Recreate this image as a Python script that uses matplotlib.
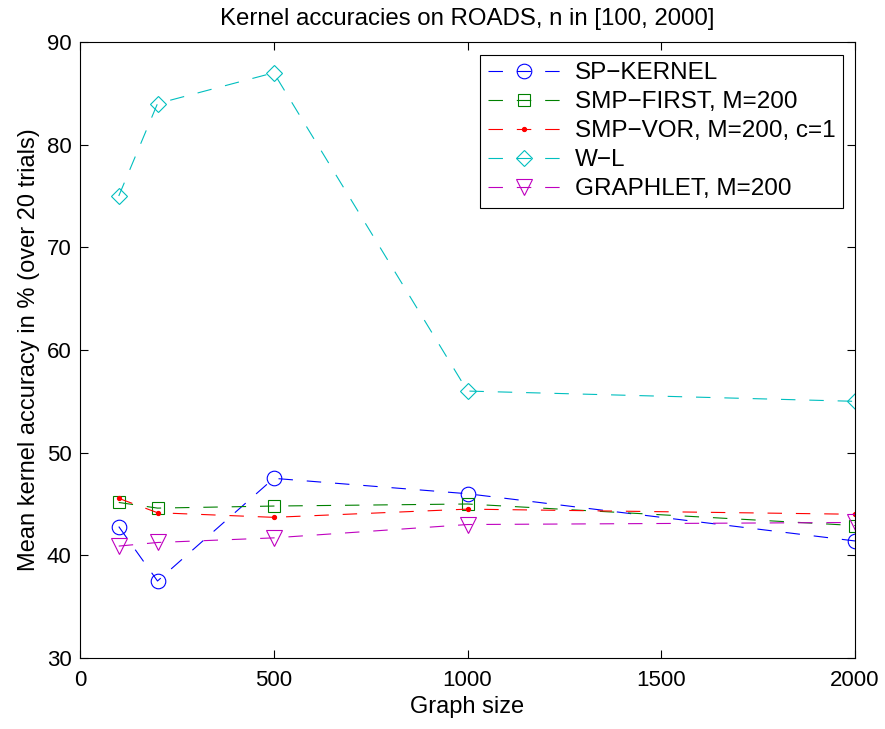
import matplotlib
matplotlib.use("Agg")
from matplotlib import pyplot as plt

plt.rcParams["font.family"] = ["Liberation Sans", "DejaVu Sans"]

GRAPH_SIZES = [100, 200, 500, 1000, 2000]

SP_KERNEL = [42.8, 37.5, 47.5, 46.0, 41.4]
SMP_FIRST = [45.15, 44.6, 44.8, 45.0, 42.9]
SMP_VOR = [45.55, 44.15, 43.7, 44.5, 44.0]
WL = [75.0, 84.0, 87.0, 56.0, 55.0]
GRAPHLET = [40.9, 41.25, 41.7, 43.0, 43.2]

LABELS = ["SP\u2212KERNEL", "SMP\u2212FIRST, M=200", "SMP\u2212VOR, M=200, c=1",
          "W\u2212L", "GRAPHLET, M=200"]

X_TICKS = [0, 500, 1000, 1500, 2000]
Y_TICKS = [30, 40, 50, 60, 70, 80, 90]

STYLES = [
    dict(color=(0, 0, 1), marker="o", ms=10.5),
    dict(color=(0, 0.5, 0), marker="s", ms=8.5),
    dict(color=(1, 0, 0), marker=".", ms=6),
    dict(color=(0, 0.75, 0.75), marker="D", ms=8.5),
    dict(color=(0.75, 0, 0.75), marker="v", ms=12),
]


def main():
    fig = plt.figure(figsize=(8.85, 7.29), dpi=100)
    ax = fig.add_axes([0.0904, 0.0974, 0.8757, 0.845])

    series = [SP_KERNEL, SMP_FIRST, SMP_VOR, WL, GRAPHLET]
    for values, label, style in zip(series, LABELS, STYLES):
        filled = style["marker"] == "."
        ax.plot(GRAPH_SIZES, values, label=label, linestyle=(0, (13, 12.5)),
                lw=0.8, color=style["color"], marker=style["marker"],
                ms=style["ms"], mfc=style["color"] if filled else "none",
                mec=style["color"], mew=0.8)

    ax.set_xlim(0, 2000)
    ax.set_ylim(30, 90)
    ax.set_xticks(X_TICKS)
    ax.set_yticks(Y_TICKS)
    ax.tick_params(direction="in", top=True, right=True, labelsize=16,
                   length=6, width=0.8)
    ax.tick_params(axis="x", pad=9)
    ax.tick_params(axis="y", pad=6)
    for spine in ax.spines.values():
        spine.set_linewidth(0.8)

    ax.set_xlabel("Graph size", fontsize=17, labelpad=3)
    ax.set_ylabel("Mean kernel accuracy in % (over 20 trials)", fontsize=17, labelpad=5)
    ax.set_title("Kernel accuracies on ROADS, n in [100, 2000]", fontsize=17.3, pad=12)

    leg = ax.legend(loc="upper right", bbox_to_anchor=(0.9845, 0.979), fontsize=17.5,
                    handlelength=3.0, numpoints=1, fancybox=False, framealpha=1,
                    edgecolor="black", borderpad=0.3, labelspacing=0.29,
                    handletextpad=0.6, borderaxespad=0)
    leg.get_frame().set_linewidth(0.8)

    fig.savefig("out.png", dpi=100)


if __name__ == "__main__":
    main()
